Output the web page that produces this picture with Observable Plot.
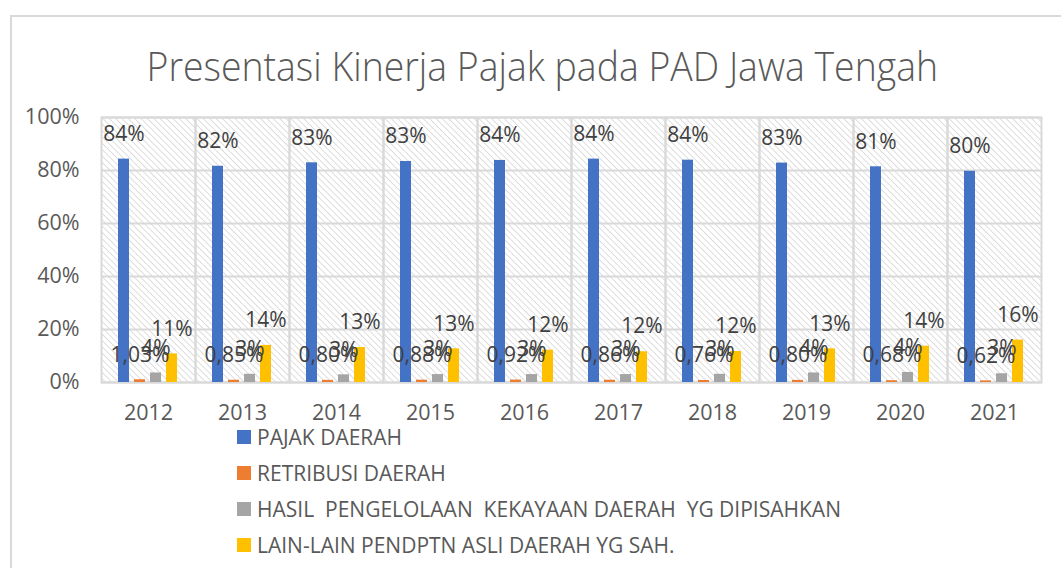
<!DOCTYPE html>
<html>
<head>
<meta charset="utf-8">
<script src="https://cdn.jsdelivr.net/npm/d3@7"></script>
<script src="https://cdn.jsdelivr.net/npm/@observablehq/plot@0.6"></script>
<style>
  html, body { margin: 0; padding: 0; background: #fff; }
  body { width: 1061px; height: 568px; overflow: hidden; position: relative; font-family: "Open Sans", sans-serif; }
  #frame { position: absolute; left: 10px; top: 15px; width: 1100px; height: 600px;
           border-left: 2px solid #d9d9d9; border-top: 2px solid #d9d9d9; }
  #title { position: absolute; left: 0; top: 38px; width: 1084px; text-align: center;
           font-size: 40px; font-weight: 300; color: #595959; white-space: nowrap; }
  #title span { display: inline-block; transform: scaleX(0.935); transform-origin: center; }
  #chart { position: absolute; left: 0; top: 100px; }
  #legend { position: absolute; left: 237px; top: 419px; }
  .item { height: 36px; display: flex; align-items: center; font-size: 21px; color: #595959; white-space: pre; }
  .item .sw { width: 14px; height: 14px; margin-right: 6px; flex: none; }
  .item .lbl { display: inline-block; }
</style>
</head>
<body>
<div id="frame"></div>
<div id="title"><span>Presentasi Kinerja Pajak pada PAD Jawa Tengah</span></div>
<div id="chart"></div>
<div id="legend"></div>
<script>
const years = ["2012","2013","2014","2015","2016","2017","2018","2019","2020","2021"];
const seriesNames = [
  "PAJAK DAERAH",
  "RETRIBUSI DAERAH",
  "HASIL  PENGELOLAAN  KEKAYAAN DAERAH  YG DIPISAHKAN",
  "LAIN-LAIN PENDPTN ASLI DAERAH YG SAH."
];
const seriesColors = ["#4472C4", "#ED7D31", "#A5A5A5", "#FFC000"];
const pajak     = [84.3, 81.6, 82.9, 83.4, 83.8, 84.3, 83.9, 82.8, 81.4, 79.7];
const retribusi = [1.03, 0.85, 0.80, 0.88, 0.92, 0.86, 0.76, 0.80, 0.68, 0.62];
const hasil     = [3.6, 3.1, 2.9, 3.0, 3.0, 3.0, 3.1, 3.6, 3.8, 3.3];
const lain      = [10.8, 14.0, 13.2, 12.7, 12.2, 11.6, 11.7, 12.7, 13.7, 16.0];
const yTicks = [0, 20, 40, 60, 80, 100];

const seriesValues = [pajak, retribusi, hasil, lain];
const data = [];
years.forEach((yr, i) => {
  seriesNames.forEach((s, j) => {
    const v = seriesValues[j][i];
    const label = j === 1 ? v.toFixed(2).replace(".", ",") + "%" : Math.round(v) + "%";
    data.push({year: yr, series: s, value: v, label});
  });
});

const svg = Plot.plot({
  width: 1061,
  height: 330,
  marginTop: 17,
  marginBottom: 48,
  marginLeft: 100,
  marginRight: 19,
  style: {fontFamily: "'Open Sans', sans-serif", fontSize: "21.5px", color: "#595959", background: "transparent", overflow: "visible"},
  fx: {domain: years, padding: 0, label: null, axis: "bottom", tickSize: 0, tickPadding: 22},
  x: {domain: seriesNames, paddingInner: 0.29, paddingOuter: 0.92, axis: null},
  y: {domain: [0, 100], ticks: yTicks, tickFormat: d => d + "%", tickSize: 0, tickPadding: 22, label: null},
  color: {domain: seriesNames, range: seriesColors},
  marks: [
    Plot.frame({fill: "url(#hatch)", stroke: "none"}),
    Plot.gridY(yTicks, {stroke: "#d9d9d9", strokeOpacity: 1, strokeWidth: 2}),
    Plot.frame({stroke: "#d9d9d9", strokeWidth: 2}),
    Plot.barY(data, {fx: "year", x: "series", y: "value", fill: "series"}),
    Plot.text(data, {fx: "year", x: "series", y: "value", text: "label", dy: -25, fill: "#404040", fontSize: 21})
  ]
});

const ns = "http://www.w3.org/2000/svg";
const defs = document.createElementNS(ns, "defs");
const pat = document.createElementNS(ns, "pattern");
pat.setAttribute("id", "hatch");
pat.setAttribute("patternUnits", "userSpaceOnUse");
pat.setAttribute("width", "4.5");
pat.setAttribute("height", "4.5");
pat.setAttribute("patternTransform", "rotate(-45)");
const bg = document.createElementNS(ns, "rect");
bg.setAttribute("width", "4.5"); bg.setAttribute("height", "4.5"); bg.setAttribute("fill", "#ffffff");
const ln = document.createElementNS(ns, "line");
ln.setAttribute("x1", "0"); ln.setAttribute("y1", "0"); ln.setAttribute("x2", "0"); ln.setAttribute("y2", "4.5");
ln.setAttribute("stroke", "#d6d6d6"); ln.setAttribute("stroke-width", "1.6");
pat.appendChild(bg); pat.appendChild(ln);
defs.appendChild(pat);
svg.insertBefore(defs, svg.firstChild);

document.getElementById("chart").appendChild(svg);

const legend = document.getElementById("legend");
seriesNames.forEach((s, j) => {
  const item = document.createElement("div");
  item.className = "item";
  const sw = document.createElement("span");
  sw.className = "sw";
  sw.style.background = seriesColors[j];
  const lbl = document.createElement("span");
  lbl.className = "lbl";
  lbl.textContent = s;
  item.appendChild(sw); item.appendChild(lbl);
  legend.appendChild(item);
});
</script>
</body>
</html>
